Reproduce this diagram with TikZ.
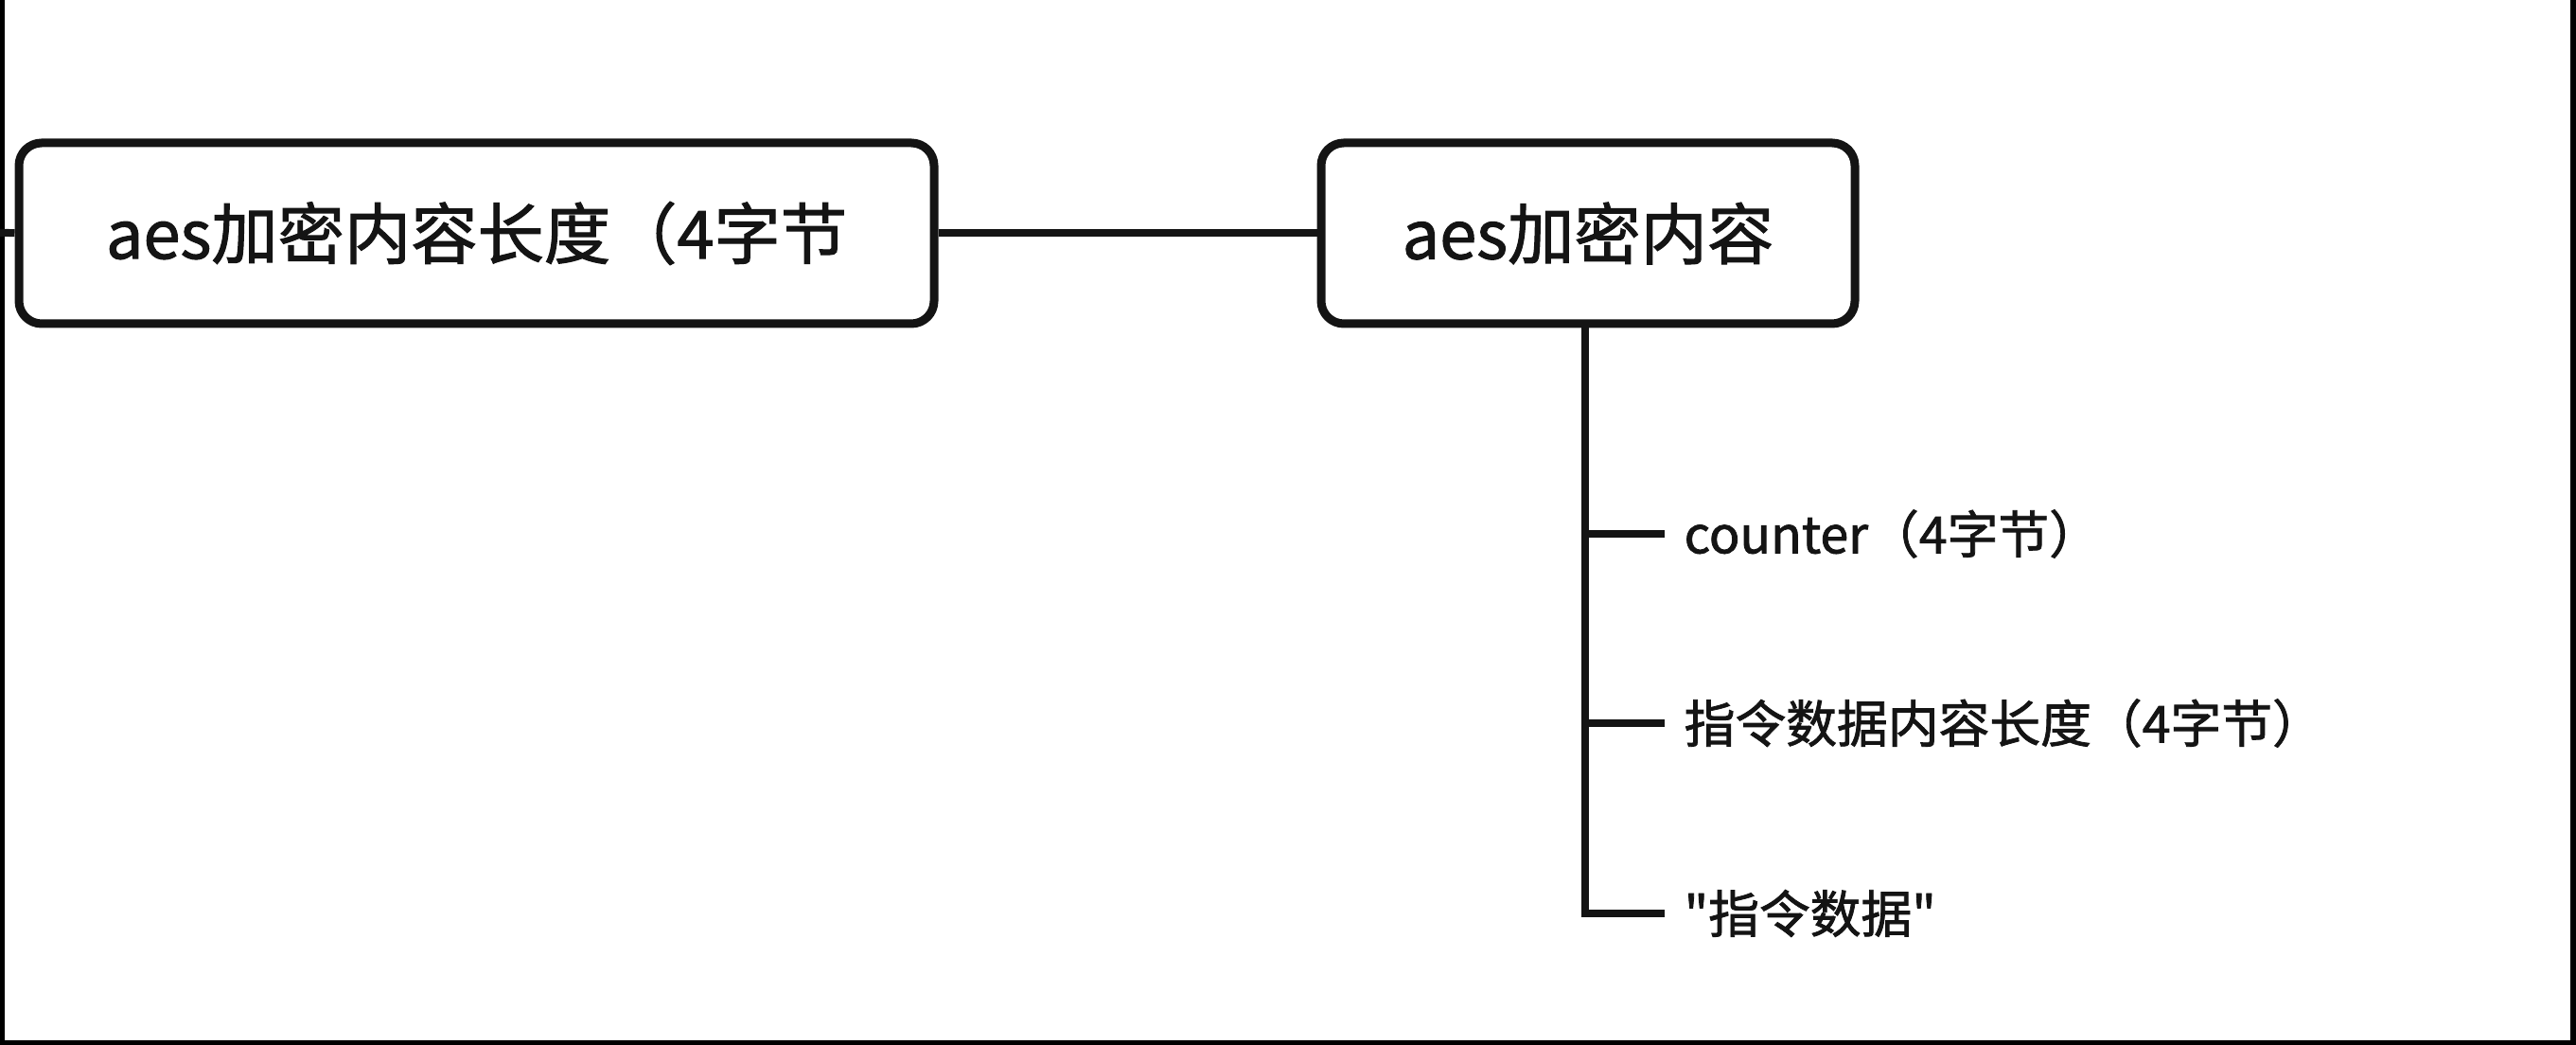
\documentclass[tikz,border=0pt]{standalone}
\usepackage{fontspec}
\setmainfont{Noto Sans CJK SC}[Ligatures=TeXOff, FakeBold=1.5]
\usepackage{tikz}
\usetikzlibrary{calc}

\definecolor{ink}{HTML}{141414}

\tikzset{
	topicbox/.style = {draw=ink, fill=white, line width=0.09cm, rounded corners=0.24cm,
		minimum height=1.91cm, inner sep=0pt, text=ink, font=\fontsize{20pt}{24pt}\selectfont},
	leaf/.style = {anchor=west, inner sep=0pt, text=ink, font=\fontsize{15.3pt}{18pt}\selectfont},
	link/.style = {draw=ink, line width=0.08cm}
}

\begin{document}
\begin{tikzpicture}
	% screenshot frame
	\fill[black] (0,0) rectangle (27.22,-11.04);
	\fill[white] (0.05,0) rectangle (27.16,-10.99);
	\useasboundingbox (0,0) rectangle (27.22,-11.04);

	\coordinate (edge) at (0,-2.46);
	\node[topicbox, minimum width=9.67cm] (laenge) at (5.035,-2.465) {aes加密内容长度（4字节};
	\node[topicbox, minimum width=5.64cm] (inhalt) at (16.78,-2.465) {aes加密内容};

	\node[leaf] (counter) at (17.79,-5.64) {counter（4字节）};
	\node[leaf] (datlen) at (17.79,-7.64) {指令数据内容长度（4字节）};
	\node[leaf] (daten) at (17.79,-9.65) {"指令数据"};

	\draw[link] (edge) -- (laenge);
	\draw[link] (laenge) -- (inhalt);
	\draw[link] (inhalt.south -| 16.75,0) |- ($(daten.west)+(-0.2,0)$);
	\draw[link] (16.75,0 |- counter.west) -- ($(counter.west)+(-0.2,0)$);
	\draw[link] (16.75,0 |- datlen.west) -- ($(datlen.west)+(-0.2,0)$);
\end{tikzpicture}
\end{document}
